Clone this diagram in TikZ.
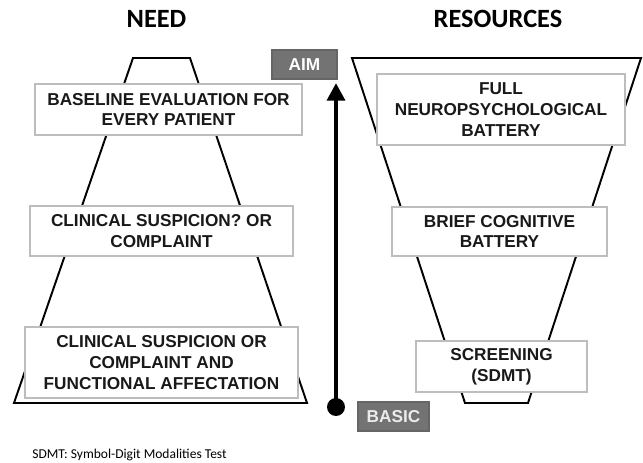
\documentclass[tikz,border=0pt]{standalone}
\usepackage{fontspec}
\usetikzlibrary{arrows.meta}
\newfontfamily\boxfont{Liberation Sans}
\newfontfamily\titlefont{Carlito}
\definecolor{labelgray}{HTML}{737373}
\definecolor{boxline}{HTML}{BDBDBD}

\begin{document}
\begin{tikzpicture}[x=0.02cm, y=-0.02cm,
    levelbox/.style={draw=boxline, line width=0.6pt, fill=white, inner sep=0pt,
        align=center, text=black!90, font=\boxfont\bfseries\fontsize{9.8}{11.8}\selectfont},
    scalelabel/.style={draw=black!60, line width=0.6pt, fill=labelgray, inner sep=0pt,
        minimum height=0.58cm, text=white, font=\boxfont\bfseries\fontsize{9.8}{11.8}\selectfont},
    heading/.style={anchor=base, font=\titlefont\bfseries\fontsize{15}{18}\selectfont},
    funnel/.style={draw=black, line width=1.1pt}]
    \useasboundingbox (0,0) rectangle (643,463);

    %headings
    \node[heading] (need) at (156.5,28) {NEED};
    \node[heading] (resources) at (498,28) {RESOURCES};

    %funnels
    \draw[funnel] (133,58) -- (190,58) -- (307,403) -- (14,403) -- cycle;
    \draw[funnel] (352,58) -- (641,58) -- (528,403) -- (465,403) -- cycle;

    %need levels
    \node[levelbox, minimum width=5.34cm, minimum height=1.02cm] (baseline) at (168.5,109.5)
        {BASELINE EVALUATION FOR\\EVERY PATIENT};
    \node[levelbox, minimum width=5.26cm, minimum height=1.0cm] (suspicion) at (161.5,231)
        {CLINICAL SUSPICION? OR\\COMPLAINT};
    \node[levelbox, minimum width=5.46cm, minimum height=1.42cm] (complaint) at (161.5,362.5)
        {CLINICAL SUSPICION OR\\COMPLAINT AND\\FUNCTIONAL AFFECTATION};

    %resource levels
    \node[levelbox, minimum width=4.96cm, minimum height=1.42cm] (full) at (501,109.5)
        {FULL\\NEUROPSYCHOLOGICAL\\BATTERY};
    \node[levelbox, minimum width=4.3cm, minimum height=0.98cm] (brief) at (499.5,231.5)
        {BRIEF COGNITIVE\\BATTERY};
    \node[levelbox, minimum width=3.42cm, minimum height=1.02cm] (screening) at (501.5,366.5)
        {SCREENING\\(SDMT)};

    %scale
    \node[scalelabel, minimum width=1.3cm] (aim) at (304.5,64.5) {AIM};
    \node[scalelabel, minimum width=1.42cm, text=white!92!black] (basic) at (393.5,416.5) {BASIC};
    \node[circle, fill=black, inner sep=0pt, minimum size=0.36cm] (basicdot) at (336,407) {};
    \coordinate (aimtip) at (336,83);
    \draw[line width=2.8pt, -{Triangle[width=10pt, length=10pt]}] (basicdot.center) -- (aimtip);

    %note
    \node[anchor=base west, inner sep=0pt, font=\titlefont\fontsize{7.7}{9}\selectfont] (note) at (32,458)
        {SDMT: Symbol-Digit Modalities Test};
\end{tikzpicture}
\end{document}
